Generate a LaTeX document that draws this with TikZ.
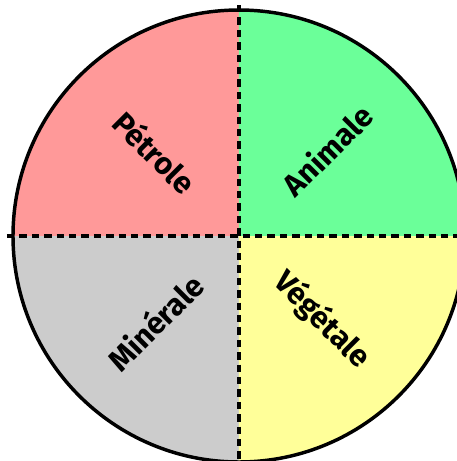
\documentclass[tikz,border=0pt]{standalone}
\usepackage{fontspec}
\setmainfont{Fira Sans}
\definecolor{cRed}{HTML}{FF9999}
\definecolor{cGreen}{HTML}{6BFF99}
\definecolor{cGray}{HTML}{CCCCCC}
\definecolor{cYellow}{HTML}{FFFF99}
\tikzset{
  rim/.style={draw=black, line width=2.6pt},
  axe/.style={draw=black, line width=2.6pt, dash pattern=on 5.5pt off 3.8pt},
  lab/.style={font=\fontsize{23}{26}\selectfont\bfseries, text=black, inner sep=1pt},
}
\begin{document}
\begin{tikzpicture}[x=0.75pt,y=0.75pt]
\useasboundingbox[fill=white] (-239,-225) rectangle (218,236);
% quarters
\fill[cRed]    (0,0) -- (-226,0) arc[start angle=180, end angle=90, radius=226] -- cycle;
\fill[cGreen]  (0,0) -- (0,226) arc[start angle=90, end angle=0, radius=226] -- cycle;
\fill[cGray]   (0,0) -- (0,-226) arc[start angle=270, end angle=180, radius=226] -- cycle;
\fill[cYellow] (0,0) -- (226,0) arc[start angle=0, end angle=-90, radius=226] -- cycle;
\draw[rim] (0,0) circle[radius=226];
% axes
\coordinate (W) at (-232,0);
\coordinate (E) at (222,0);
\coordinate (N) at (0,231);
\coordinate (S) at (0,-229);
\draw[axe] (W) -- (E);
\draw[axe] (N) -- (S);
% labels
\node[lab, rotate=-45] (petrole) at (-84,84) {Pétrole};
\node[lab, rotate=45] (animale) at (88,86) {Animale};
\node[lab, rotate=45] (minerale) at (-84,-86) {Minérale};
\node[lab, rotate=-45] (vegetale) at (83,-84) {Végétale};
\end{tikzpicture}
\end{document}
